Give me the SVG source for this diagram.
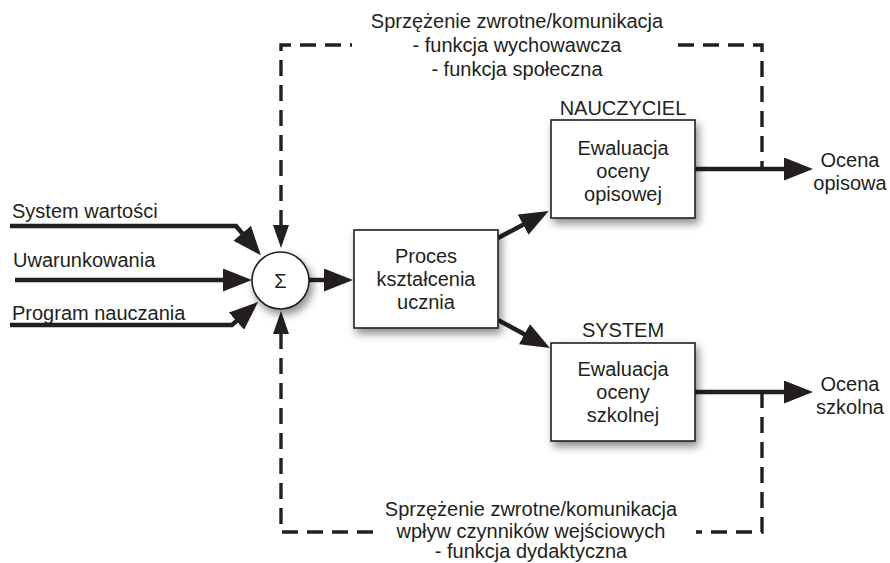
<svg xmlns="http://www.w3.org/2000/svg" width="890" height="563" viewBox="0 0 890 563">
<defs>
<style>
text{font-family:"Liberation Sans",Arial,Helvetica,sans-serif;font-size:20px;fill:#231f20;text-anchor:middle}
.l{text-anchor:start}
.box{fill:#fff;stroke:#231f20;stroke-width:1.6;filter:url(#sh)}
.solid{fill:none;stroke:#231f20;stroke-width:4.5;marker-end:url(#ah)}
.dash{fill:none;stroke:#231f20;stroke-width:3.4;stroke-dasharray:16 9}
.da{marker-start:url(#ahd)}
</style>
<filter id="sh" x="-20%" y="-20%" width="150%" height="150%">
<feDropShadow dx="3" dy="5" stdDeviation="4" flood-color="#000" flood-opacity="0.45"/>
</filter>
<marker id="ah" markerUnits="userSpaceOnUse" markerWidth="29" markerHeight="23" viewBox="0 0 29 23" refX="1" refY="11.5" orient="auto">
<path d="M0,0 L29,11.5 L0,23 z" fill="#231f20"/>
</marker>
<marker id="ahd" markerUnits="userSpaceOnUse" markerWidth="23" markerHeight="16" viewBox="0 0 23 16" refX="1" refY="8" orient="auto-start-reverse">
<path d="M0,0 L23,8 L0,16 z" fill="#231f20"/>
</marker>
</defs>
<g id="connectors">
<path class="solid" d="M10,226 H236 L242.8,234"/>
<path class="solid" d="M15,280 H224"/>
<path class="solid" d="M10,325 H232 L237.2,320.4"/>
<path class="solid" d="M309,280 H325"/>
<path class="solid" d="M498,238 L524,224.2"/>
<path class="solid" d="M498,320 L525.3,334.7"/>
<path class="solid" d="M695,169 H785"/>
<path class="solid" d="M695,392 H785"/>
<path class="dash da" d="M281,226 V45 H352"/>
<path class="dash" d="M678,45 H762 V169"/>
<path class="dash da" d="M281,333 V532 H376"/>
<path class="dash" d="M762,392 V532 H696"/>
</g>
<g id="sum">
<circle cx="280.5" cy="280.5" r="28.5" class="box"/>
<text x="280.5" y="288">Σ</text>
</g>
<g id="proces">
<rect class="box" x="354" y="230" width="144" height="98"/>
<text x="426" y="263">Proces</text>
<text x="426" y="286">kształcenia</text>
<text x="426" y="309">ucznia</text>
</g>
<g id="ewaluacja-opisowa">
<text x="623" y="115">NAUCZYCIEL</text>
<rect class="box" x="551" y="120" width="144" height="98"/>
<text x="623" y="155">Ewaluacja</text>
<text x="623" y="178">oceny</text>
<text x="623" y="201">opisowej</text>
</g>
<g id="ewaluacja-szkolna">
<text x="623" y="337">SYSTEM</text>
<rect class="box" x="551" y="343" width="144" height="98"/>
<text x="623" y="376">Ewaluacja</text>
<text x="623" y="399">oceny</text>
<text x="623" y="422">szkolnej</text>
</g>
<g id="inputs">
<text class="l" x="12" y="218">System wartości</text>
<text class="l" x="13" y="267">Uwarunkowania</text>
<text class="l" x="12" y="320">Program nauczania</text>
</g>
<g id="outputs">
<text x="850" y="167">Ocena</text>
<text x="850" y="190">opisowa</text>
<text x="850" y="391">Ocena</text>
<text x="850" y="414">szkolna</text>
</g>
<g id="feedback-top">
<text x="517" y="28">Sprzężenie zwrotne/komunikacja</text>
<text x="517" y="52">- funkcja wychowawcza</text>
<text x="517" y="76">- funkcja społeczna</text>
</g>
<g id="feedback-bottom">
<text x="531" y="516">Sprzężenie zwrotne/komunikacja</text>
<text x="531" y="538">wpływ czynników wejściowych</text>
<text x="531" y="558">- funkcja dydaktyczna</text>
</g>
</svg>
